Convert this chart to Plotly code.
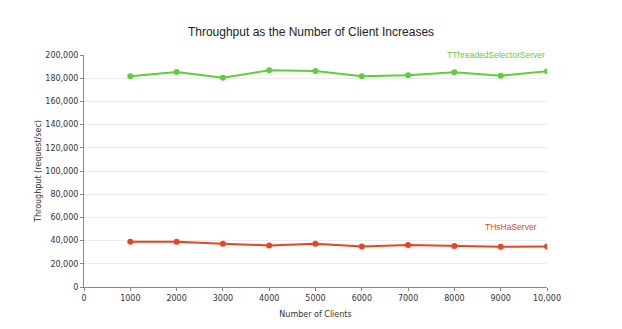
import plotly.graph_objects as go

clients = [1000, 2000, 3000, 4000, 5000, 6000, 7000, 8000, 9000, 10000]
threaded_selector = [181600, 185300, 180400, 186800, 186200, 181600, 182500, 185100, 182100, 185900]
hsha = [39050, 39100, 37300, 35850, 37300, 35000, 36100, 35250, 34700, 35000]

x_tickvals = [0, 1000, 2000, 3000, 4000, 5000, 6000, 7000, 8000, 9000, 10000]
x_ticktext = ["0", "1000", "2000", "3000", "4000", "5000", "6000", "7000", "8000", "9000", "10,000"]
y_tickvals = list(range(0, 200001, 20000))
y_ticktext = [f"{v:,}" for v in y_tickvals]

GREEN = "#5fcd3c"
RED = "#e8441f"
FONT = "DejaVu Sans"
TFONT = "Liberation Sans"

fig = go.Figure()
fig.add_trace(go.Scatter(x=clients, y=threaded_selector, mode="lines+markers",
                         name="TThreadedSelectorServer",
                         line=dict(color=GREEN, width=2), marker=dict(color=GREEN, size=6)))
fig.add_trace(go.Scatter(x=clients, y=hsha, mode="lines+markers",
                         name="THsHaServer",
                         line=dict(color=RED, width=2), marker=dict(color=RED, size=6)))

fig.add_annotation(x=10000, y=200000, xref="x", yref="y", text="TThreadedSelectorServer",
                   showarrow=False, xanchor="right", yanchor="middle", yshift=0,
                   font=dict(family=TFONT, size=8.5, color=GREEN))
fig.add_annotation(x=9830, y=51400, xref="x", yref="y", text="THsHaServer",
                   showarrow=False, xanchor="right", yanchor="middle",
                   font=dict(family=TFONT, size=8.5, color=RED))

fig.update_layout(
    width=622, height=329,
    margin=dict(l=84, r=75, t=55, b=42),
    paper_bgcolor="white", plot_bgcolor="white",
    showlegend=False,
    title=dict(text="Throughput as the Number of Client Increases", x=0.5, xanchor="center",
               y=1 - 32 / 329, yanchor="middle", yref="container",
               font=dict(family=TFONT, size=12, color="#222")),
    font=dict(family=FONT, size=8, color="#333"),
)
fig.update_xaxes(range=[0, 10000], tickvals=x_tickvals, ticktext=x_ticktext, automargin=False,
                 showgrid=False, zeroline=False, showline=True, linecolor="#888", linewidth=1,
                 ticks="outside", ticklen=3, tickcolor="#888",
                 tickfont=dict(family=FONT, size=8, color="#333"),
                 title=dict(text="Number of Clients", font=dict(family=FONT, size=8, color="#333"), standoff=9))
fig.update_yaxes(range=[0, 200000], tickvals=y_tickvals, ticktext=y_ticktext, automargin=False,
                 showgrid=True, gridcolor="#ececec", gridwidth=1, zeroline=False,
                 showline=True, linecolor="#888", linewidth=1,
                 ticks="outside", ticklen=3, tickcolor="#888",
                 tickfont=dict(family=FONT, size=8, color="#333"),
                 title=dict(text="Throughput (request/sec)", font=dict(family=FONT, size=8, color="#333"), standoff=2))

fig.write_html("out.html")
